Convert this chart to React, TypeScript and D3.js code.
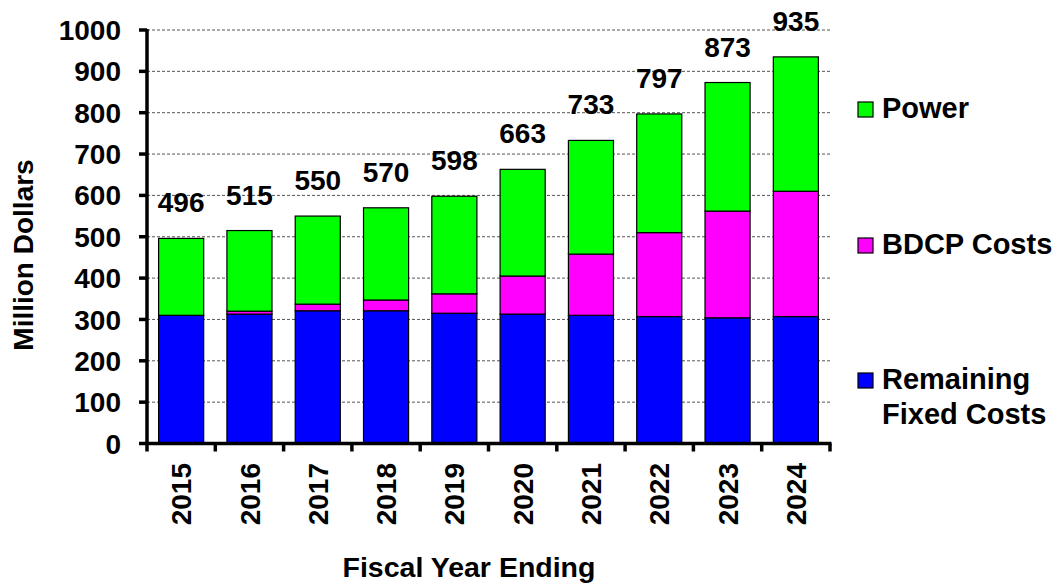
import React from "react";
import * as d3 from "d3";

const years = ["2015", "2016", "2017", "2018", "2019", "2020", "2021", "2022", "2023", "2024"];
const remainingFixed = [310, 313, 321, 321, 315, 313, 310, 307, 304, 307];
const bdcpCosts = [0, 7, 16, 26, 47, 92, 148, 203, 258, 303];
const totals = [496, 515, 550, 570, 598, 663, 733, 797, 873, 935];
const power = totals.map((t, i) => t - remainingFixed[i] - bdcpCosts[i]);
const yTicks = [0, 100, 200, 300, 400, 500, 600, 700, 800, 900, 1000];

const seriesKeys = ["remaining", "bdcp", "power"];
const seriesColors: Record<string, string> = { remaining: "#0000FF", bdcp: "#FF00FF", power: "#00FF00" };

const FONT = "'Liberation Sans', Arial, sans-serif";

export default function App() {
  const W = 1056, H = 585;
  const left = 147, right = 830, top = 30, bottom = 443.5;

  const x = d3.scaleBand<string>().domain(years).range([left, right]).paddingInner(0.34).paddingOuter(0.17);
  const step = (right - left) / years.length;
  const y = d3.scaleLinear().domain([0, 1000]).range([bottom, top]);

  const table = years.map((yr, i) => ({ year: yr, remaining: remainingFixed[i], bdcp: bdcpCosts[i], power: power[i] }));
  const stacked = d3.stack<any>().keys(seriesKeys)(table);

  const legend = [
    { key: "power", lines: ["Power"], y: 102 },
    { key: "bdcp", lines: ["BDCP Costs"], y: 238 },
    { key: "remaining", lines: ["Remaining", "Fixed Costs"], y: 373 },
  ];

  return (
    <svg width={W} height={H} style={{ position: "absolute", left: 0, top: 0, background: "#fff" }} fontFamily={FONT} fontWeight="bold">
      {/* gridlines */}
      {yTicks.filter((t) => t > 0).map((t) => (
        <line key={"g" + t} x1={left} x2={right} y1={y(t)} y2={y(t)} stroke="#555" strokeWidth={1} strokeDasharray="3,2" />
      ))}
      {/* bars */}
      {stacked.map((s) => (
        <g key={s.key} fill={seriesColors[s.key]}>
          {s.map((d, i) =>
            d[1] - d[0] > 0 ? (
              <rect key={i} x={x(years[i])} width={x.bandwidth()} y={y(d[1])} height={y(d[0]) - y(d[1])} stroke="#000" strokeWidth={1.2} />
            ) : null
          )}
        </g>
      ))}
      {/* total labels */}
      {totals.map((t, i) => (
        <text key={"t" + i} x={(x(years[i]) as number) + x.bandwidth() / 2} y={y(t) - 26} textAnchor="middle" fontSize={28} fill="#000">
          {t}
        </text>
      ))}
      {/* y axis */}
      <line x1={left} x2={left} y1={top - 1} y2={bottom + 1.5} stroke="#000" strokeWidth={3.5} />
      {yTicks.map((t) => (
        <g key={"yt" + t}>
          <line x1={left - 8} x2={left} y1={y(t)} y2={y(t)} stroke="#000" strokeWidth={3.5} />
          <text x={121} y={y(t)} dy="0.36em" textAnchor="end" fontSize={28} fill="#000">
            {t}
          </text>
        </g>
      ))}
      {/* x axis */}
      <line x1={left - 1.5} x2={right + 1.5} y1={bottom} y2={bottom} stroke="#000" strokeWidth={3.5} />
      {d3.range(years.length + 1).map((i) => (
        <line key={"xt" + i} x1={left + i * step} x2={left + i * step} y1={bottom} y2={bottom + 8} stroke="#000" strokeWidth={3.5} />
      ))}
      {years.map((yr) => {
        const cx = (x(yr) as number) + x.bandwidth() / 2;
        return (
          <text key={"xl" + yr} transform={`translate(${cx},463) rotate(-90)`} textAnchor="end" dy="0.36em" fontSize={28} fill="#000">
            {yr}
          </text>
        );
      })}
      {/* axis titles */}
      <text transform="translate(23,255) rotate(-90)" textAnchor="middle" dy="0.36em" fontSize={28} fill="#000">
        Million Dollars
      </text>
      <text x={469} y={577} textAnchor="middle" fontSize={28.5} fill="#000">
        Fiscal Year Ending
      </text>
      {/* legend */}
      {legend.map((l) => (
        <g key={"lg" + l.key}>
          <rect x={858} y={l.y} width={15} height={15} fill={seriesColors[l.key]} stroke="#000" strokeWidth={1.2} />
          {l.lines.map((ln, j) => (
            <text key={j} x={882} y={l.y + 16 + j * 35} fontSize={29} fill="#000">
              {ln}
            </text>
          ))}
        </g>
      ))}
    </svg>
  );
}
